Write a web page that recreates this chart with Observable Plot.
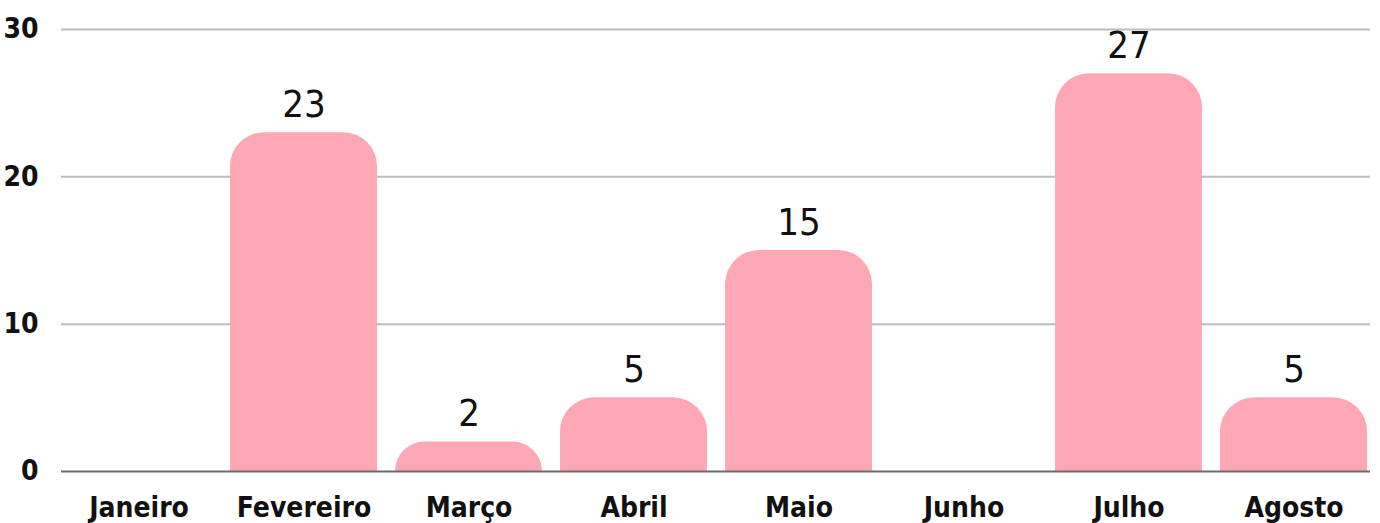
<!DOCTYPE html>
<html>
<head>
<meta charset="utf-8">
<script src="https://cdn.jsdelivr.net/npm/d3@7"></script>
<script src="https://cdn.jsdelivr.net/npm/@observablehq/plot@0.6"></script>
<style>
  html, body { margin: 0; padding: 0; background: #fff; }
  #chart svg { display: block; }
  #chart svg text { font-stretch: condensed; }
</style>
</head>
<body>
<div id="chart"></div>
<script>
const months = ["Janeiro", "Fevereiro", "Março", "Abril", "Maio", "Junho", "Julho", "Agosto"];
const values = [0, 23, 2, 5, 15, 0, 27, 5];
const yTicks = [0, 10, 20, 30];

const data = months.map((m, i) => ({month: m, value: values[i]}));
const FONT = "'DejaVu Sans Condensed', 'DejaVu Sans', sans-serif";

const chart = Plot.plot({
  width: 1380,
  height: 523,
  marginLeft: 61,
  marginRight: 10,
  marginTop: 29,
  marginBottom: 52,
  style: {fontFamily: FONT, background: "#fff", overflow: "visible"},
  x: {domain: months, paddingInner: 0.11, paddingOuter: 0, label: null},
  y: {domain: [0, 30], ticks: yTicks, label: null},
  marks: [
    Plot.ruleY(yTicks.filter(d => d > 0), {stroke: "#bdbdbd", strokeWidth: 2}),
    Plot.barY(data.filter(d => d.value > 0), {x: "month", y: "value", fill: "#ffa8b5", rx1y1: 34, rx2y1: 34}),
    Plot.ruleY([0], {stroke: "#6b6b6b", strokeWidth: 2}),
    Plot.text(data.filter(d => d.value > 0), {
      x: "month", y: "value", text: d => String(d.value),
      dy: -16, lineAnchor: "bottom", fontSize: 38, fill: "#111", fontFamily: FONT
    }),
    Plot.axisX({tickSize: 0, tickPadding: 26, fontSize: 28, fontWeight: "bold", fill: "#111", label: null}),
    Plot.axisY(yTicks, {tickSize: 0, tickPadding: 23, fontSize: 28, fontWeight: "bold", fill: "#111", label: null})
  ]
});
document.getElementById("chart").appendChild(chart);
</script>
</body>
</html>
